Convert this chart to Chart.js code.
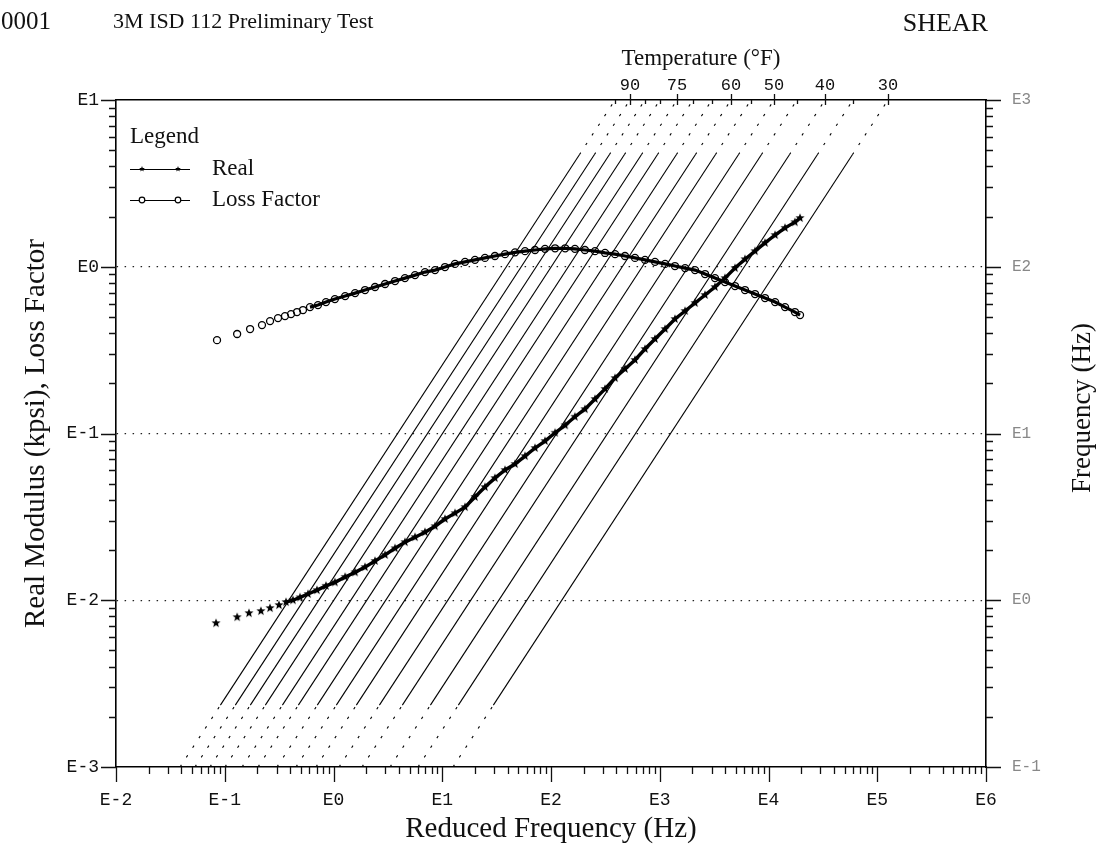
<!DOCTYPE html>
<html>
<head>
<meta charset="utf-8">
<title>3M ISD 112 Preliminary Test - SHEAR</title>
<script src="https://cdn.jsdelivr.net/npm/chart.js@4.4.0/dist/chart.umd.min.js"></script>
<style>
  html, body { margin: 0; padding: 0; background: #fff; }
  #wrap { width: 1108px; height: 848px; }
</style>
</head>
<body>
<div id="wrap"><canvas id="chart" width="1108" height="848"></canvas></div>
<script>
const realFreq = [0.0831, 0.130, 0.167, 0.215, 0.261, 0.315, 0.366, 0.424, 0.492, 0.583, 0.705, 0.853, 1.03,
  1.28, 1.58, 1.95, 2.41, 2.98, 3.68, 4.54, 5.62, 6.94, 8.58, 10.6, 13.1, 16.2, 20.0, 24.7, 30.5, 37.8, 46.7,
  57.7, 71.3, 88.1, 109, 135, 166, 205, 254, 314, 388, 479, 592, 732, 904, 1120, 1380, 1710, 2110, 2610, 3220,
  3980, 4920, 6080, 7520, 9290, 11500, 14200, 17500, 19500];
const realModulus = [0.00729, 0.00792, 0.00837, 0.00861, 0.00897, 0.00935, 0.00975, 0.0100, 0.0104, 0.0109, 0.0115, 0.0122, 0.0128,
  0.0138, 0.0147, 0.0158, 0.0172, 0.0187, 0.0205, 0.0223, 0.0239, 0.0256, 0.0278, 0.0307, 0.0333, 0.0362, 0.0416, 0.0477, 0.0540,
  0.0604, 0.0656, 0.0732, 0.0818, 0.0901, 0.101, 0.112, 0.126, 0.140, 0.161, 0.185, 0.215, 0.244, 0.276, 0.321, 0.369, 0.423,
  0.486, 0.543, 0.606, 0.677, 0.756, 0.855, 0.982, 1.11, 1.24, 1.39, 1.55, 1.71, 1.85, 1.96];

const lossFreq = [0.0849, 0.130, 0.171, 0.220, 0.261, 0.309, 0.358, 0.407, 0.462, 0.524, 0.608, 0.720, 0.853, 1.03,
  1.28, 1.58, 1.95, 2.41, 2.98, 3.68, 4.54, 5.62, 6.94, 8.58, 10.6, 13.1, 16.2, 20.0, 24.7, 30.5, 37.8, 46.7,
  57.7, 71.3, 88.1, 109, 135, 166, 205, 254, 314, 388, 479, 592, 732, 904, 1120, 1380, 1710, 2110, 2610, 3220,
  3980, 4920, 6080, 7520, 9290, 11500, 14200, 17500, 19500];
const lossFactor = [0.363, 0.395, 0.423, 0.447, 0.472, 0.492, 0.506, 0.520, 0.535, 0.550, 0.573, 0.589, 0.614, 0.640,
  0.667, 0.695, 0.725, 0.756, 0.788, 0.821, 0.855, 0.891, 0.929, 0.955, 0.996, 1.04, 1.07, 1.10, 1.13, 1.16, 1.19,
  1.22, 1.24, 1.26, 1.28, 1.29, 1.29, 1.28, 1.26, 1.24, 1.21, 1.19, 1.16, 1.13, 1.10, 1.07, 1.04, 1.01, 0.982,
  0.955, 0.904, 0.855, 0.809, 0.766, 0.725, 0.686, 0.649, 0.614, 0.573, 0.535, 0.513];

// isotherms: temperature (F) and log10 of the shift factor aT
const temps = [95, 90, 85, 80, 75, 70, 65, 60, 55, 50, 45, 40, 35, 30];
const logShift = [-0.411, -0.274, -0.136, 0.002, 0.159, 0.306, 0.480, 0.655, 0.839, 1.051, 1.262, 1.520, 1.777, 2.099];
const tempLabels = [90, 75, 60, 50, 40, 30];
// frequency axis min, measured range low/high, axis max (Hz)
const freqRange = [0.1, 0.235, 470, 1000];

// axis decades (exponents)
const xExp = [-2, -1, 0, 1, 2, 3, 4, 5, 6];
const yExp = [-3, -2, -1, 0, 1];
const y2Exp = [-1, 0, 1, 2, 3];

const SERIF = '"Liberation Serif", "Times New Roman", serif';
const MONO = '"Liberation Mono", "Courier New", monospace';

function makeStar(r) {
  const size = Math.ceil(r * 2 + 2);
  const c = document.createElement('canvas');
  c.width = c.height = size;
  const g = c.getContext('2d');
  g.translate(size / 2, size / 2);
  g.beginPath();
  for (let k = 0; k < 10; k++) {
    const rad = k % 2 ? r * 0.42 : r;
    const ang = -Math.PI / 2 + k * Math.PI / 5;
    g.lineTo(rad * Math.cos(ang), rad * Math.sin(ang));
  }
  g.closePath();
  g.fillStyle = '#000';
  g.fill();
  return c;
}
const star = makeStar(4.8);
const smallStar = makeStar(3);

const decadeTicks = exps => scale => { scale.ticks = exps.map(e => ({ value: Math.pow(10, e) })); };

// where the scatter gets dense enough to read as a band
const joinFrom = (start) => ctx => ctx.p0DataIndex >= start ? '#000' : 'rgba(0,0,0,0)';

// the two measured series go first so they draw over the isotherms
const datasets = [
  {
    label: 'Real',
    data: realFreq.map((f, i) => ({ x: f, y: realModulus[i] })),
    xAxisID: 'x', yAxisID: 'y',
    pointStyle: star, pointRadius: 4.5,
    showLine: true, borderWidth: 3.4, borderColor: '#000',
    segment: { borderColor: joinFrom(6) }
  },
  {
    label: 'Loss Factor',
    data: lossFreq.map((f, i) => ({ x: f, y: lossFactor[i] })),
    xAxisID: 'x', yAxisID: 'y',
    pointStyle: 'circle', pointRadius: 3.5, pointBorderWidth: 1.3,
    pointBorderColor: '#000', pointBackgroundColor: 'rgba(0,0,0,0)',
    showLine: true, borderWidth: 3.2, borderColor: '#000',
    segment: { borderColor: joinFrom(10) }
  }
];
temps.forEach((t, i) => {
  datasets.push({
    label: t + ' F',
    data: freqRange.map(f => ({ x: f * Math.pow(10, logShift[i]), y: f })),
    xAxisID: 'x', yAxisID: 'y2',
    showLine: true, pointRadius: 0, borderColor: '#000', borderWidth: 1.1,
    segment: { borderDash: ctx => ctx.p0DataIndex === 1 ? [] : [2.5, 9] }
  });
});

// minor and major tick marks
const axisTicks = {
  id: 'axisTicks',
  afterDraw(chart) {
    const { ctx, chartArea: a, scales } = chart;
    const each = (exps, fn) => {
      const lo = exps[0], hi = exps[exps.length - 1];
      for (let e = lo; e <= hi; e++) {
        for (let m = 1; m < 10; m++) {
          if (e === hi && m > 1) break;
          fn(m * Math.pow(10, e), m === 1);
        }
      }
    };
    ctx.save();
    ctx.strokeStyle = '#111';
    ctx.lineWidth = 1.3;
    ctx.beginPath();
    each(xExp, (v, major) => {
      const px = Math.round(scales.x.getPixelForValue(v)) + 0.5;
      ctx.moveTo(px, a.bottom);
      ctx.lineTo(px, a.bottom + (major ? 15 : 7));
    });
    each(yExp, (v, major) => {
      const py = Math.round(scales.y.getPixelForValue(v)) + 0.5;
      ctx.moveTo(a.left, py);
      ctx.lineTo(a.left - (major ? 15 : 7), py);
    });
    each(y2Exp, (v, major) => {
      const py = Math.round(scales.y2.getPixelForValue(v)) + 0.5;
      ctx.moveTo(a.right, py);
      ctx.lineTo(a.right + (major ? 15 : 7), py);
    });
    scales.x2.ticks.forEach((t, i) => {
      const px = Math.round(scales.x2.getPixelForValue(t.value)) + 0.5;
      const lab = tempLabels.includes(temps[i]);
      ctx.moveTo(px, a.top - (lab ? 6 : 0));
      ctx.lineTo(px, a.top + (lab ? 5 : 4));
    });
    ctx.stroke();
    ctx.restore();
  }
};

// legend box in the upper left of the plot
const boxLegend = {
  id: 'boxLegend',
  afterDatasetsDraw(chart) {
    const { ctx, chartArea: a } = chart;
    const left = a.left + 14;
    ctx.save();
    ctx.fillStyle = '#111';
    ctx.textBaseline = 'middle';
    ctx.textAlign = 'left';
    ctx.font = '23px ' + SERIF;
    ctx.fillText('Legend', left, 137);
    chart.data.datasets.slice(0, 2).forEach((d, k) => {
      const y = 169 + k * 31;
      ctx.beginPath();
      ctx.moveTo(left, y + 0.5);
      ctx.lineTo(left + 60, y + 0.5);
      ctx.strokeStyle = '#000';
      ctx.lineWidth = 1.2;
      ctx.stroke();
      [left + 12, left + 48].forEach(px => {
        if (d.pointStyle === 'circle') {
          ctx.beginPath();
          ctx.arc(px, y, 2.8, 0, Math.PI * 2);
          ctx.fillStyle = '#fff';
          ctx.fill();
          ctx.stroke();
        } else {
          ctx.drawImage(smallStar, px - smallStar.width / 2, y - smallStar.height / 2);
        }
      });
      ctx.fillStyle = '#111';
      ctx.fillText(d.label, left + 82, y);
    });
    ctx.restore();
  }
};

// header, temperature title and right axis title
const pageText = {
  id: 'pageText',
  afterDraw(chart) {
    const ctx = chart.ctx;
    ctx.save();
    ctx.fillStyle = '#111';
    ctx.textBaseline = 'middle';
    ctx.textAlign = 'left';
    ctx.font = '25px ' + SERIF;
    ctx.fillText('0001', 1, 22);
    ctx.font = '22px ' + SERIF;
    ctx.fillText('3M ISD 112 Preliminary Test', 113, 22);
    ctx.textAlign = 'right';
    ctx.font = '26px ' + SERIF;
    ctx.fillText('SHEAR', 988, 24);
    ctx.textAlign = 'center';
    ctx.font = '23px ' + SERIF;
    ctx.fillText('Temperature (\u00B0F)', 701, 59);
    ctx.translate(1083, 408);
    ctx.rotate(-Math.PI / 2);
    ctx.font = '27px ' + SERIF;
    ctx.fillText('Frequency (Hz)', 0, 0);
    ctx.restore();
  }
};

const tickFont = { family: MONO, size: 18 };

new Chart(document.getElementById('chart'), {
  type: 'scatter',
  data: { datasets },
  plugins: [axisTicks, boxLegend, pageText],
  options: {
    responsive: false,
    animation: false,
    events: [],
    layout: { padding: 0 },
    plugins: { legend: { display: false }, tooltip: { enabled: false } },
    scales: {
      x: {
        type: 'logarithmic', position: 'bottom', min: 1e-2, max: 1e6,
        afterBuildTicks: decadeTicks(xExp),
        afterFit: s => { s.height = 81; },
        ticks: { callback: (v, i) => 'E' + xExp[i], font: tickFont, color: '#111', padding: 22, maxRotation: 0, autoSkip: false },
        grid: { drawOnChartArea: false, drawTicks: false },
        border: { color: '#000', width: 1.6 },
        title: { display: true, text: 'Reduced Frequency (Hz)', font: { family: SERIF, size: 29 }, color: '#111', padding: { bottom: 1 } }
      },
      x2: {
        type: 'logarithmic', position: 'top', min: 1e-2, max: 1e6,
        afterBuildTicks: s => { s.ticks = logShift.map(ls => ({ value: freqRange[3] * Math.pow(10, ls) })); },
        afterFit: s => { s.height = 100; },
        ticks: {
          callback: (v, i) => tempLabels.includes(temps[i]) ? String(temps[i]) : '',
          font: { family: MONO, size: 17 }, color: '#111', padding: 4, maxRotation: 0, autoSkip: false
        },
        grid: { drawOnChartArea: false, drawTicks: false },
        border: { color: '#000', width: 1.6 }
      },
      y: {
        type: 'logarithmic', position: 'left', min: 1e-3, max: 1e1,
        afterBuildTicks: decadeTicks(yExp),
        afterFit: s => { s.width = 116; },
        ticks: { callback: (v, i) => 'E' + yExp[i], font: tickFont, color: '#111', padding: 17, autoSkip: false },
        grid: {
          drawOnChartArea: true, drawTicks: false, lineWidth: 1.2,
          color: ctx => (ctx.index > 0 && ctx.index < yExp.length - 1) ? '#222' : 'rgba(0,0,0,0)'
        },
        border: { color: '#000', width: 1.6, dash: [1.5, 6.5] },
        title: { display: true, text: 'Real Modulus (kpsi), Loss Factor', font: { family: SERIF, size: 29 }, color: '#111', padding: { top: 19 } }
      },
      y2: {
        type: 'logarithmic', position: 'right', min: 0.1, max: 1000,
        afterBuildTicks: decadeTicks(y2Exp),
        afterFit: s => { s.width = 122; },
        ticks: { callback: (v, i) => 'E' + y2Exp[i], font: { family: MONO, size: 16 }, color: '#888', padding: 26, autoSkip: false },
        grid: { drawOnChartArea: false, drawTicks: false },
        border: { color: '#000', width: 1.6 }
      }
    }
  }
});
</script>
</body>
</html>
